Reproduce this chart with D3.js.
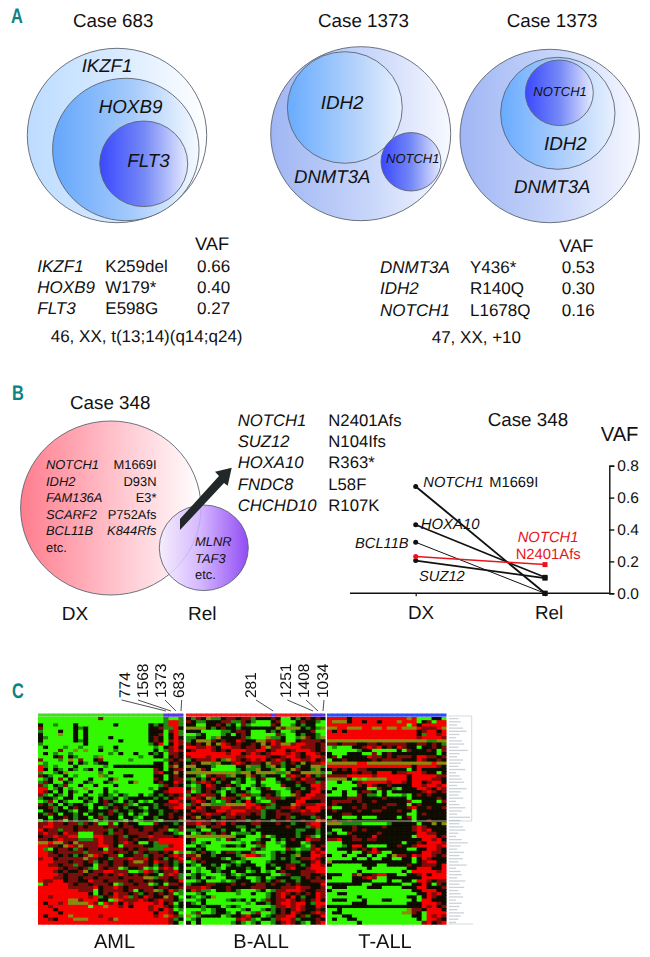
<!DOCTYPE html>
<html>
<head>
<meta charset="utf-8">
<style>
  html, body { margin: 0; padding: 0; background: #fff; }
  svg { display: block; }
  text { font-family: "Liberation Sans", Arial, sans-serif; fill: #111; text-rendering: geometricPrecision; }
  .it { font-style: italic; }
</style>
<script src="https://cdn.jsdelivr.net/npm/d3@7/dist/d3.min.js"></script>
</head>
<body>
<script>
// panel A tables
var tableCase683 = [["IKZF1", "K259del", "0.66"], ["HOXB9", "W179*", "0.40"], ["FLT3", "E598G", "0.27"]];
var tableCase1373 = [["DNMT3A", "Y436*", "0.53"], ["IDH2", "R140Q", "0.30"], ["NOTCH1", "L1678Q", "0.16"]];

// panel B lists
var dxGenes = ["NOTCH1", "IDH2", "FAM136A", "SCARF2", "BCL11B"];
var dxChanges = ["M1669I", "D93N", "E3*", "P752Afs", "K844Rfs"];
var relGenes = ["MLNR", "TAF3"];
var gainedGenes = ["NOTCH1", "SUZ12", "HOXA10", "FNDC8", "CHCHD10"];
var gainedChanges = ["N2401Afs", "N104Ifs", "R363*", "L58F", "R107K"];

// panel B slope chart, VAF at DX and Rel
var stages = ["DX", "Rel"];
var vafTicks = [0, 0.2, 0.4, 0.6, 0.8];
var vafNotch1M = [0.67, 0];
var vafHoxa10 = [0.43, 0.10];
var vafBcl11b = [0.32, 0];
var vafNotch1N = [0.23, 0.18];
var vafSuz12 = [0.205, 0.095];

// panel C, one string per heatmap row: G green, g dim green, k black, d dark red, R red, o olive
var amlRows = [
"GGGGGGGGGGGGdGGGGGGGGGGGGgGGg","GGGGGGGGGGGGGGGGGGGGGGGGGgRRg","kGGgGGGkGGGGGGGkGGGGGGkgkgRRg","dGGGGGGkgkGGGGGGGGGGGGkkdggRk",
"gGGGkGGkGkGGGGGGGGGGGGkkkGdRg","kGGGoGGkGkGGGGGGGGGGGGkkdGkRg","kgGGGGGkGkGGGGkGGGGGGGkdkGkRk","kGGGGGGkgkGGGGGGkGGGGGkdkGdRd",
"gGGGGGGGGkGGGGGGGGGGGGgkRGkRd","GkGGGgGGgGGGgGGkGGGGGGGgGkdRk","GGGGdGGoGoGGkGGgGGGGGGGkGgdRd","GkGgGGgGGGGGGGgGkGGkGGkgkGddk",
"GGGkdGkgGGGgoGGGGGGGgGGkkGkdk","dGGGgGoGdGGkdGGGGGgGGGGGGgdkd","GgGGGGkGkgGgkkGGGGGGGGGkkGkdk","RgGgGGGkGGGGGgGkkkkkkkkkkGdok",
"RkGkgGkgGgkGkGGGGGGGGGGdkGkdd","gGGgkoGGGGGGgGkGGGGGGGGdRkkok","dkgGGkGgGGGGogGGGkkGGGGkkGkdk","GgkGdGkGGGkGGGkoGGGGGGGdkGkdd",
"gdkGGkgGGkgGGkgGGGkoGGGkdkkRd","dgGkgdGGkGGkGGGkGGGGGGGGgdkdk","RRGgkGgGGoGGGkGGGGGGGGgGkkRRR","RdkGkGkgGGkGGkGgGGGGGGGkkdRRR",
"dgGkgGkGGkGGgkgGkgGGkGgkgkdkd","gkkgGkkGkgkGkggkGgkkkkkgkgkdR","GgdGkgGGGkgGkdkgGkgkGgGkkkRRd","dkgkGkgkkgGkkdgkkdgGkkkgkdddR",
"kkdgkGkdkkGkGgkdkgkkgGkgkkdRR","GkkgkkgGkkgkkkdgkkgkkgkkgkkdk","kgdkGkkgkGkkgkdkgkGkgGkkgkdkk","kkGkkdkgkkGkdgkkGkkgGkkgkkdkd",
"GkgkdGkgkkgGkgkkgGkGgkkgGkkkg",
"ddRddkddgdkdGGdGkdkkGGGdkkkgk","dRRddddkdkdddkddkddkkddkkdkkd","RkddgddkddddddgkdkddkddkddGgd","dRddkRddGGGddkgddkddddkddkkgG",
"kddRddRRGGGRRddkdgkkddRddddkd","ddkdRdddgggdRddkddkdkkddRRRRR","ooRoodkoddddRddkdRdkGGkgRRRRR","RRddkoRdodddRRdkGddddkkgggdRR",
"RgGkddkgdkddkGdddkdkddgggRRRR","RRdkdddddgdddRdkddkgdkddkdkGg","RRddkdkgkdoRdkddGkkddgkddkdRd","dRRkdddddoddkkgdddRddRkdkgkdR",
"RRRdddkddkdgkdkddkdoodkRddkgd","RRddkddgdkkGddkddkddddkgkdkgk","RRRRdkddkdgGdkddGgkkdGgGdRdGk","RRRdkdkkdokddRRdddGGgRdgkddRk",
"RRRRdkdddkddkdkdRdkdkdkkGdRdg","RRRddkddkddkddddkddddoogddkdg","RddRRkddkkRddkddddkddkdkkdkkR","GdRRRRdkddkdddkGgddkddGgkGddk",
"RRRRRRdddddRkddRdkdddddkddkkd","RRRRRRRRdddGkddddkdGkddogkRdg","RRRRRRRRRRkGkdkRddkdgkdkdkdGg","RRdRRRRRRRdRgkdRdRgdkRdkkodkG",
"RRRRRRoodRRRkkGoRdddRdkdRddkg","RkRRdRooooRdGRdRkRdRRRRdRkdGk","RRdRRRRRRRGRRoRRdRkRRRdRRdkgk","RRRkRRRRRRRRRRRRRRRRRRdRkRdGg",
"RRRRkRRRRRRRRRRRRRRRRRRkRRdkG","RkRRRRoRRRRRdRRRRRRRRRRdRoRdg","RRdkRRRoooRRRRdoRRRRRRRRRRdgk","RRRRRRRRRRRRRRRRRRRRRRRRRRdkG"
];
var ballRows = [
"kgdkoggkddkddgkkkdkGGkgkdkdk","dkggkkkddggdkgGGGkdGGGkdkkgG","kkGGkkdkgkGdgGGGGdkGGgkgkkGG","ooookgkdkkgkkkkkkkodoookgkgo",
"kkkGGGGggkddkGGGkgkGGgkkkdGG","GGgkGGGgkGkdkGGGGGdgGGkgkkgG","ggkkGgokkkkdgGGGoggkGGgodkgo","gkooodkdkkRdkkoodRdkGGkddddk",
"dkdkokoRdkdkkdkokRdoodRRddkd","RRddRdkRRddkddkRoddRRRRdddkd","kdRRRdkdkRRRddRRkdRRkdRRRdkd","RRRRRRRRdRRkdRdkdRRRdRdkRRdk",
"dRRRdRRRRRddRRRRdkkdRRdkdRRd","gkdddRkgoRdkdRdRkdRdkRRddRkd","kdkoogokkdRdkddkoddgkdkokddR","ookkkgGGGGkkoggkgokgkkgkkoog",
"kgodkGGGGGgkggokkgoGkodkkgok","oooooooooogookooooggokkoooog","kkgGdkddgokkodkgkkkGdRdkRkgd","gokgkRkdkkgkGgkdGGkkgdkRddkk",
"kgdRdkgkkGgkGGkGGGgkkkdkddgd","gGgkRdkkdkgGGgkgGGGdkkgkkRRd","kogkddkgGgkGkGgkdGGGgkkgkdRd","dGgkdkgGkgkkgGGkkkgGGkdkkRRk",
"gkdRddkGkkgRdggkdkgGGodkRRdd","dRdkogkRddkgGkGgdddgkkdRRddd","kdRdkgGgdkgkRkgGGdkkkkRRkkkd","gdkoogggooooRRdkdgkkkoRdddRR",
"dkRdkddRRdddRdRdggkddRdkRRRd","kRddkkRRdRRRdddgkkdkkddRdRRk","dkkdRddkdRdddkdgkkdddkkdddkk","kdokdkkgddkdkkkgkkdkdgkkkgdk",
"dkddkgkdkkddgkdkkgkkdkkdkkoR",
"ddRddkdRkdkkkddkkkdkkgkkdRRk","kkgokddkkkggkkgkkkkkdkkkgdRk","ggkGGkkgkkkGkgkkkkkkkkggkkgk","kGgkdgkdkGgggkGkkkkkkkgkkkgk",
"ooooooooookkGGGdGgkkkkgkdgGk","kdGGGGgGdkgGGGgkkGkgkdkkRddk","kgGgkGGGGGGgGkdkGGgGkkkGgkkk","GGkgGGGgkkgkGGgdGGGgkkkgGdkd",
"kkgkGGGGGGGGGdkgGGGGdgGggdRk","GgkdkgGkddgkkgGGGgkgkkgkkRdR","ddokkgkkkkgoRRdgGgkkkgokkRRd","kRdkkkkgGkkgGGGGGgkgkgkddRdk",
"GgkdkkkkkgGgkGGGgkkkkggkkdRk","kgGkkgkGgkgkkkGGkgkkddkgkRRd","GGgGkkgGkkkkgkkGkkGkdRkkdRRR","kGgGGkgkkGkkGgkGgGkdkkkdddRR",
"GgkgGGGgkgGgkkkkkGGgdkkddkkd","kgkGkgGGkkgkGGgkGgkkkggkdkdk","GGgkGGGgGgkkkGgkgkdgkkgkkddd","gkkkddkkkdkdkkddkdkkdkdkkkkR",
"dddRdkkkdkkkkdddkkkdddRddkkd","kRdggGkkdkgGGGgkGgddRRRdkkdd","GGgkGGGGGGgGGkGGgkdRdkdkdkRd","kgGgkoGGGGGGGGGGgkdRkRkgkkRd",
"GGgkGGGGgkgkGkGgdkddRdkdkdRk","kgGkGGGGGGGGgGkkgkdRRdRRkgRR","kkkgkkkGgkgGGGGGGgddRdRdkkRd","GGGgGgkkGGGgkGGgkgkdkdRdkkdk",
"GgdGGgkkgGkGGgdGGgkdkRdkkdRd","oGgkkkkGgkkdRkkGgkddRRkdgkkR","GgkGGGGGGGdRdgGkkgdRRdgkkkdk","kGkGGGGGGgkgGgkGGgkdRdkgGkdR"
];
var tallRows = [
"RRRRkRRRRRRRRRRRoRGGGkkG","RoookRRkRRkRRRoRRRGkdGRR","RRRRRRRRRRRRRRRRGRkRRRRR","ooRRoooRRooRooRoooRdddRo",
"RkRkRRRRRRRRRRRRRRkdRRkR","RRRRRRRRRRRRRRRRRRkgRRdR","RRRRRRRRRRRRRRRRRRdRRRRd","ooooooooooooooooooooggoo",
"ddkdddkkddkdddddkkddkdkg","GgGGGkkdRdRkdkRdkkGkkdkd","GGGGGGgkkGGGGGkGdkkkdkGd","kGGGkkkGGdGkdkkkkkkkkkGk",
"kdGkkkkkRddkdkdddkRRddkd","GkkdkkkkkdkddddkkkRdkkdk","ooooooRRoooooooooooooRoo","RRRRRRRRRRRRRRRRRkRRRRdk",
"kdkdkRddkkkkkkkkGkRkkkkk","GkkkkdkddkRRRkddRRRdkkGk","ddddRRRRRdRRRRRRkRRRRRdd","ooookGoGooooRRRRkRRRRddk",
"GGkGGkdRRRRRdRRdkRRkdRRk","GGGGGGdkRdkkdkkkkRRdRRdR","GkGGGkkkGGdkkgGkkkRRdkRd","kGGkGGkddkGkGkkkkkkdRdkd",
"GGGkGGdkggGkGGGgGkdkdkkk","kkkkdddkkkkdkkkkGkkkkkdk","kddddkdkkdkkkkkkdGGkkkGd","kdkkkkkdkkkkddkkGkdkkkkk",
"dGGkkdkdkkkdkkkkdRkkdkkd","kdkkkkdkkddkkkdkkGkkkkkk","kkkddkkkkkkkkkkkGGkdkkkk","GkkGGGkGGGkkkkGkdGkkkkkk",
"kdkkdkkkkkkkkkkkkGkkdkkk",
"oooggggGGGGGgkkkkkGkkoko","kkkkkdkkkkkdkkkkkdRdkkkk","kGGkkdkdkkkkkkkkkdRdRkkk","gkGGdkkkkkdkkkkkkkRRddkk",
"kkkkkdkkkRkkkkkkkGRRRRkd","ddRkkddkddkkkkkkkkkRRdRk","GGGkkkkkkkkkkkkGkkdkRRRd","GGGgkRRkGGGGkkdkkdRRRRdR",
"GGkkkdkdkRkkkkkkGGkkRRdk","GGGGkGGkdRdGGkkkkkkRRddk","kGGkGGkkGkGGkoddkRdRRdkd","GGGGGkGGkGGkkGGkkGkRdkkk",
"okkkkkkkkkkkkkkkkGkdRRkk","kGGGGGGkkkGGkkkkdkkdddkR","GGGGGGGGkGGGGGGGkkRRRkkR","GGGGGGkGGGGGGGGkGRRRRRdR",
"kkkGGdokkdRRkkGGkkdRkRRR","kGGGGkkdRdGGkkkkkkkRRRRR","GGGGGkkkkGGGkGGkkGRRdkdd","kkkkkkkGGkkkkkkGGkkRkGdk",
"GkkkGGGGkkkGGGGkkkRRkkkd","kGGGGGGGGGGGGGGGGkkRRRkk","GGkkGGGGGGGGGGGGGGkkRdRk","GGGGGGkGGGGGGGGGkkGkRdkk",
"GkkkGGGkGGGkkGGGGkGRRkkk","GGGGGkkkGGGGGGGGkkkRRRdk","kkkkkkkkkkkkkkkkkkkRdRkd","GGkGGGGGGGGGGGGGoddkRRRk",
"GkkGGGGGGGGGGGGoodkGRRRR","GGGkkGGGGGGGGGGGGkkGRdRd","GkGGkkGGGGGGGGGGGGkGRRdk","GGGGGGkGGGGGGGGGGGGdRkdR"
];
var panelNames = ["AML", "B-ALL", "T-ALL"];
var panelCases = [["774", "1568", "1373", "683"], ["281", "1251", "1408", "1034"], []];
var panelCaseColumns = [[25, 26, 27, 28], [17, 25, 26, 27], []];
// rough length of the gene label beside each heatmap row, unreadable at this size
var geneLabelLengths = [8, 10, 7, 12, 15, 9, 6, 11, 13, 8, 16, 9, 7, 12, 10, 8, 14, 6, 9, 11, 13, 7, 15, 10, 8, 12, 6, 9, 14, 11, 7, 18, 10,
  9, 12, 14, 8, 6, 11, 16, 10, 7, 13, 9, 12, 8, 15, 6, 10, 11, 7, 14, 9, 13, 8, 10, 12, 6, 11, 9, 7, 13, 10, 8, 6];

var svg = d3.select("body").append("svg").attr("width", 650).attr("height", 957);
var defs = svg.append("defs");
defs.append("filter").attr("id", "soft").attr("x", "-2%").attr("y", "-2%").attr("width", "104%").attr("height", "104%")
  .append("feGaussianBlur").attr("stdDeviation", "0.6 0.75");

function gradient(id, stops) {
  var g = defs.append("linearGradient").attr("id", id);
  stops.forEach(function (s) {
    g.append("stop").attr("offset", s[0]).attr("stop-color", s[1]);
  });
}
gradient("gLight", [[0, "#bcdcff"], [0.55, "#dcecff"], [1, "#ffffff"]]);
gradient("gMid", [[0, "#64a6fb"], [0.55, "#a6cbfb"], [1, "#f6faff"]]);
gradient("gDeep", [[0, "#3a48ff"], [0.5, "#7488f6"], [1, "#e6eaff"]]);
gradient("gPale", [[0, "#a0b6f4"], [0.55, "#c8d6fa"], [1, "#f8f9ff"]]);
gradient("gMidB", [[0, "#68abff"], [0.6, "#b4d2fb"], [1, "#e8f1ff"]]);
gradient("gPink", [[0, "#ff7d8e"], [0.55, "#ffc6cf"], [1, "#ffffff"]]);
gradient("gPurple", [[0, "#f4efff"], [0.45, "#cfaeff"], [1, "#7f2ff2"]]);

function label(x, y, str, size, italic, anchor, color) {
  return svg.append("text").attr("x", x).attr("y", y).text(str)
    .attr("class", italic ? "it" : null)
    .style("font-size", size + "px")
    .style("text-anchor", anchor || "start")
    .style("fill", color || null);
}
function panelLetter(x, y, str) {
  label(0, 0, str, 21, false, "start", "#0a8384").style("font-weight", "bold")
    .attr("transform", "translate(" + x + "," + y + ") scale(0.78,1)");
}
function venn(list) {
  svg.selectAll(null).data(list).enter().append("ellipse")
    .attr("cx", function (d) { return d[0]; })
    .attr("cy", function (d) { return d[1]; })
    .attr("rx", function (d) { return d[2]; })
    .attr("ry", function (d) { return d[3]; })
    .attr("fill", function (d) { return "url(#" + d[4] + ")"; })
    .attr("fill-opacity", function (d) { return d[5] || 1; })
    .attr("stroke", "#5c6470").attr("stroke-width", 0.9);
}
function table(rows, xs, ys, size) {
  rows.forEach(function (r, i) {
    label(xs[0], ys[i], r[0], size, true);
    label(xs[1], ys[i], r[1], size);
    label(xs[2], ys[i], r[2], size);
  });
}

// ---- A
panelLetter(11, 23, "A");
label(73, 26.5, "Case 683", 18.8);
label(318, 27, "Case 1373", 18.8);
label(506.7, 27, "Case 1373", 18.8);

venn([[117, 135.5, 89.7, 87.2, "gLight"], [125.8, 149.5, 73.2, 71.2, "gMid"], [143.7, 163.8, 44, 42.8, "gDeep"]]);
venn([[360.7, 133.7, 90, 87, "gPale"], [344.8, 107.5, 57.5, 55.8, "gMidB"], [411, 161.8, 30, 29.2, "gDeep"]]);
venn([[549.7, 136, 89.7, 86.7, "gPale"], [557.8, 113.3, 57.2, 56, "gMidB"], [559.3, 92.8, 34, 32.8, "gDeep"]]);

label(81.7, 71.7, "IKZF1", 18.6, true);
label(98.7, 113, "HOXB9", 18.8, true);
label(127.3, 167.3, "FLT3", 18.8, true);
label(320.7, 109, "IDH2", 18.8, true);
label(294, 182.7, "DNMT3A", 18.6, true);
label(386, 163.3, "NOTCH1", 13, true);
label(533.3, 95.7, "NOTCH1", 13, true);
label(544, 150, "IDH2", 18.8, true);
label(514, 193.3, "DNMT3A", 18.6, true);

label(195, 250, "VAF", 18.3);
table(tableCase683, [37.3, 105.3, 197], [271.7, 293.3, 314.3], 17);
label(50.7, 341.7, "46, XX, t(13;14)(q14;q24)", 17);
label(559.3, 251.7, "VAF", 18.3);
table(tableCase1373, [380, 470, 561.7], [273.3, 294.3, 315.7], 17);
label(431.7, 343, "47, XX, +10", 17);

// ---- B left
panelLetter(12, 400, "B");
label(70, 409, "Case 348", 18.8);
venn([[110.8, 508, 90.2, 87, "gPink"], [203.8, 547.8, 44.5, 42.8, "gPurple", 0.86]]);
dxGenes.forEach(function (g, i) {
  var y = 469.3 + i * 16.5;
  label(46, y, g, 12.9, true);
  label(156.5, y, dxChanges[i], 12.9, i === 4, "end");
});
label(46, 551.7, "etc.", 12.9);
relGenes.forEach(function (g, i) {
  label(195, 546 + i * 16.6, g, 12.9, true);
});
label(195, 579, "etc.", 12.9);

svg.append("path").attr("fill", "#22282a")
  .attr("d", "M180,530 L180,519 L219,476 L215,471.7 L231.7,467.7 L227.7,485.7 L224,483 Z");

label(61.7, 620, "DX", 19);
label(188, 620, "Rel", 19);

gainedGenes.forEach(function (g, i) {
  var y = [425.7, 446.7, 468.3, 490, 511][i];
  label(237.7, y, g, 16.7, true);
  label(328.3, y, gainedChanges[i], 16.7);
});

// ---- B slope chart
label(487.7, 426, "Case 348", 18.8);
label(600.7, 440.7, "VAF", 20.2);

var xStage = d3.scalePoint().domain(stages).range([415.7, 545]);
var yVaf = d3.scaleLinear().domain([0, 0.8]).range([593.3, 465.7]);

var yAxis = d3.axisRight(yVaf).tickValues(vafTicks).tickSize(5).tickPadding(3).tickFormat(d3.format(".1f"));
var yG = svg.append("g").attr("transform", "translate(609.3,0)").call(yAxis);
yG.selectAll("path, line").attr("stroke", "#111").attr("stroke-width", 1.4);
yG.selectAll("text").style("font-size", "15.5px").style("font-family", "'Liberation Sans', Arial, sans-serif");

var xAxis = d3.axisBottom(xStage).tickSize(3).tickFormat("");
var xG = svg.append("g").attr("transform", "translate(0,593.3)").call(xAxis);
xG.select("path").remove();
xG.selectAll("line").attr("stroke", "#111").attr("stroke-width", 1.2);
svg.append("line").attr("x1", 350).attr("x2", 609.3).attr("y1", yVaf(0)).attr("y2", yVaf(0))
  .attr("stroke", "#111").attr("stroke-width", 1.4);

label(408, 619.3, "DX", 18.8);
label(535, 619.3, "Rel", 18.8);

var slopeLine = d3.line()
  .x(function (d, i) { return xStage(stages[i]); })
  .y(function (d) { return yVaf(d); });
var slopes = [
  { v: vafBcl11b, c: "#111", w: 1 },
  { v: vafSuz12, c: "#111", w: 1.9 },
  { v: vafHoxa10, c: "#111", w: 1.6 },
  { v: vafNotch1M, c: "#111", w: 1.9 },
  { v: vafNotch1N, c: "#e8141c", w: 1.5 }
];
svg.selectAll(".slope").data(slopes).enter().append("path").attr("class", "slope")
  .attr("fill", "none")
  .attr("d", function (d) { return slopeLine(d.v); })
  .attr("stroke", function (d) { return d.c; })
  .attr("stroke-width", function (d) { return d.w; });
svg.selectAll(".dxDot").data(slopes).enter().append("circle").attr("class", "dxDot")
  .attr("cx", xStage("DX")).attr("cy", function (d) { return yVaf(d.v[0]); })
  .attr("r", 2.5).attr("fill", function (d) { return d.c; });
svg.selectAll(".relBox").data(slopes).enter().append("rect").attr("class", "relBox")
  .attr("x", xStage("Rel") - 2.5).attr("y", function (d) { return yVaf(d.v[1]) - 2.5; })
  .attr("width", 5).attr("height", 5).attr("fill", function (d) { return d.c; });

label(423.3, 487.3, "NOTCH1", 14.7, true);
label(489.3, 487.3, "M1669I", 14.7);
label(420.7, 529.3, "HOXA10", 14.9, true);
label(355, 548.3, "BCL11B", 14.7, true);
label(419, 581, "SUZ12", 14.7, true);
label(517.7, 542, "NOTCH1", 14.8, true, "start", "#e8141c");
label(515.7, 559, "N2401Afs", 14.8, false, "start", "#e8141c");

// ---- C
panelLetter(12, 697.7, "C");

var cellColor = d3.scaleOrdinal()
  .domain(["G", "g", "k", "d", "R", "o"])
  .range(["#33f800", "#1d8a08", "#0a0800", "#7c0a08", "#f60000", "#8c8a0c"]);

var rowBand = d3.scaleBand().domain(d3.range(amlRows.length)).range([717, 924]);
var panels = [
  { rows: amlRows, x: [38, 183.5], bar: "#3fe01a" },
  { rows: ballRows, x: [186, 325.5], bar: "#f01a1a" },
  { rows: tallRows, x: [327, 446.5], bar: "#3350ee" }
];
var caseLabelX = [[130, 148, 166, 184], [256, 290.5, 308.5, 327.5], []];
var caseLeaderX = [[121.7, 138, 165, 181.7], [256, 287.3, 306, 324], []];
var heat = svg.append("g").attr("filter", "url(#soft)");

panels.forEach(function (p, pi) {
  var cols = d3.range(p.rows[0].length);
  var colBand = d3.scaleBand().domain(cols).range(p.x);

  var rowG = heat.append("g").selectAll("g").data(p.rows).enter().append("g")
    .attr("transform", function (d, i) { return "translate(0," + rowBand(i) + ")"; });
  rowG.selectAll("rect").data(function (d) { return d.split(""); }).enter().append("rect")
    .attr("x", function (d, i) { return colBand(i); })
    .attr("width", function (d, i) { return colBand.bandwidth() + (i < cols.length - 1 ? 0.7 : 0); })
    .attr("height", rowBand.bandwidth() + 0.7)
    .attr("fill", function (d) { return cellColor(d); });

  // sample bar on top, the marked cases are in blue
  heat.append("g").selectAll("rect").data(cols).enter().append("rect")
    .attr("x", function (d) { return colBand(d); })
    .attr("y", 713.5)
    .attr("width", function (d) { return colBand.bandwidth() + (d < cols.length - 1 ? 0.7 : 0); })
    .attr("height", 3.2)
    .attr("fill", function (d) {
      return panelCaseColumns[pi].indexOf(d) >= 0 ? "#5a38e0" : p.bar;
    });

  panelCases[pi].forEach(function (name, i) {
    var colX = colBand(panelCaseColumns[pi][i]) + colBand.bandwidth() / 2;
    label(0, 0, name, 15.5).attr("transform", "translate(" + caseLabelX[pi][i] + ",698) rotate(-90)");
    svg.append("line")
      .attr("x1", caseLeaderX[pi][i]).attr("y1", 700)
      .attr("x2", colX).attr("y2", 711)
      .attr("stroke", "#222").attr("stroke-width", 0.8);
  });
});

heat.append("line").attr("x1", 38).attr("x2", 446.5).attr("y1", 821).attr("y2", 821)
  .attr("stroke", "#b4b4a0").attr("stroke-width", 1);

// gene list box next to the heatmap
svg.append("path").attr("fill", "none").attr("stroke", "#c4c8cc").attr("stroke-width", 0.7)
  .attr("d", "M448.3,716 H471.7 V821 H448.3 M448.3,924 H473");
var geneX = d3.scaleLinear().domain([0, 18]).range([449, 470]);
svg.append("g").selectAll("line").data(geneLabelLengths).enter().append("line")
  .attr("x1", geneX(0))
  .attr("x2", function (d) { return geneX(d); })
  .attr("y1", function (d, i) { return rowBand(i) + rowBand.bandwidth() / 2; })
  .attr("y2", function (d, i) { return rowBand(i) + rowBand.bandwidth() / 2; })
  .attr("stroke", "#a8b6c0").attr("stroke-width", 1.3).attr("stroke-opacity", 0.6);

label(94, 948.3, panelNames[0], 20);
label(233.3, 948.3, panelNames[1], 20);
label(358.3, 948.3, panelNames[2], 20);
</script>
</body>
</html>
